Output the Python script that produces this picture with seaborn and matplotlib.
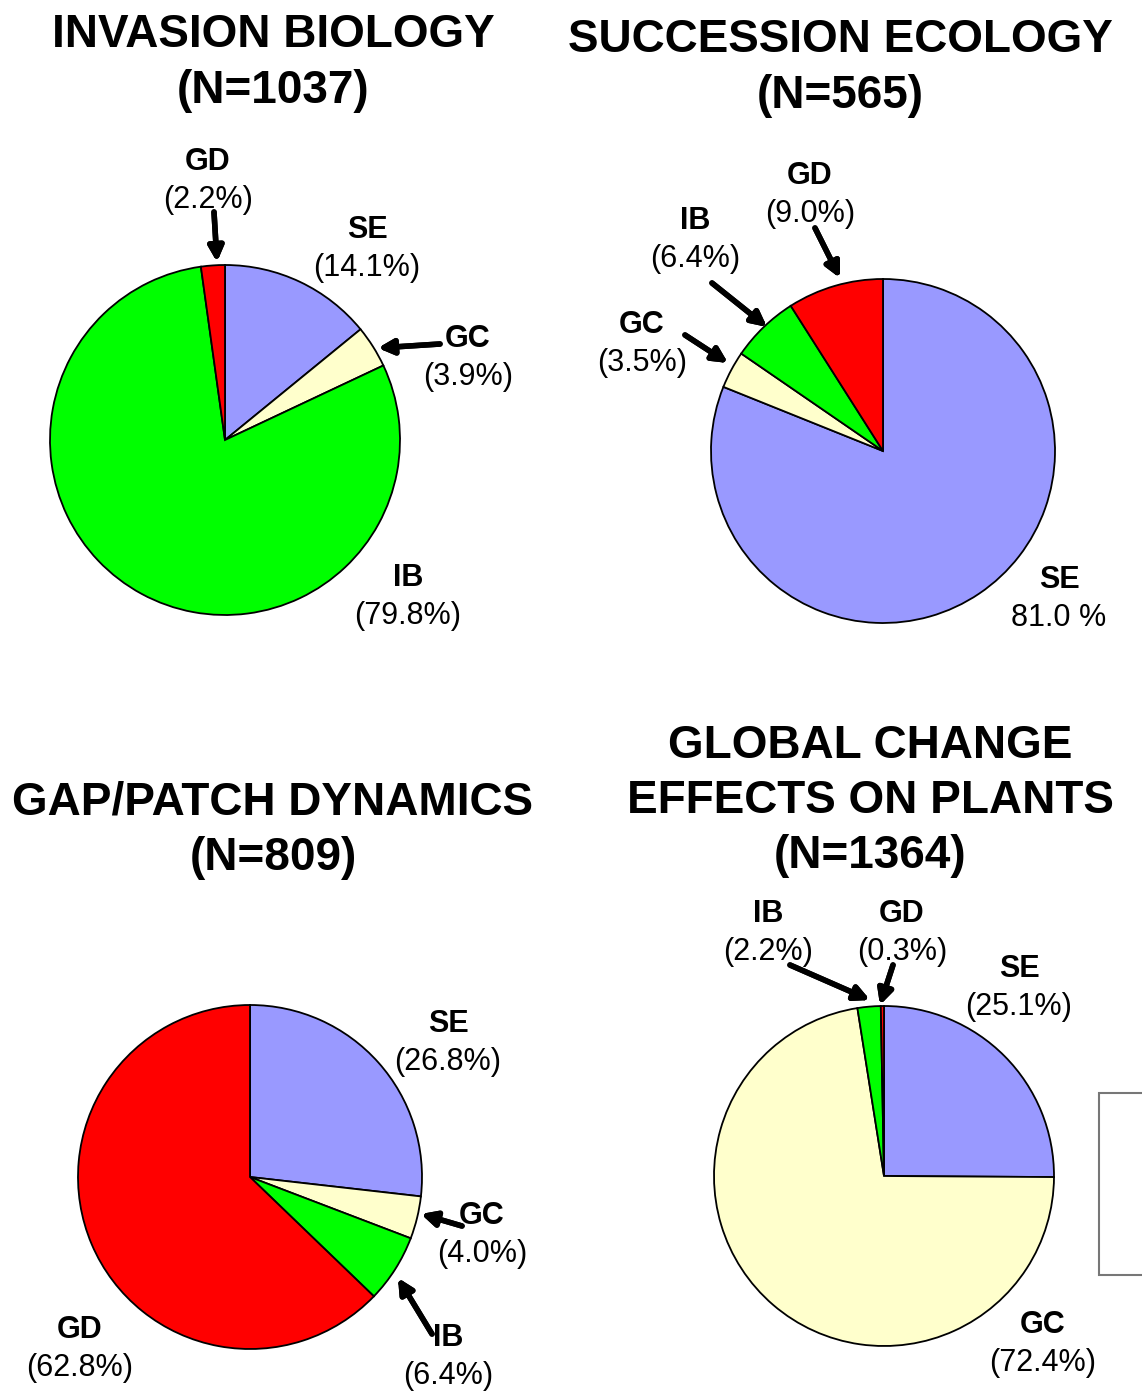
import seaborn as sns
import matplotlib.pyplot as plt
from matplotlib.patches import Rectangle

sns.set_style('white')
plt.rcParams['font.family'] = ['Liberation Sans', 'DejaVu Sans']
plt.rcParams['text.color'] = 'black'

W, H = 1142, 1391

# 数据
categories = ['SE', 'GC', 'IB', 'GD']
colors = sns.color_palette(['#9999FF', '#FFFFCC', '#00FF00', '#FF0000'])

titles = ['INVASION BIOLOGY\n(N=1037)', 'SUCCESSION ECOLOGY\n(N=565)',
          'GAP/PATCH DYNAMICS\n(N=809)', 'GLOBAL CHANGE\nEFFECTS ON PLANTS\n(N=1364)']
invasion = [14.1, 3.9, 79.8, 2.2]
succession = [81.0, 3.5, 6.4, 9.0]
gap_patch = [26.8, 4.0, 6.4, 62.8]
global_change = [25.1, 72.4, 2.2, 0.3]
pct_labels = [['(14.1%)', '(3.9%)', '(79.8%)', '(2.2%)'],
              ['81.0 %', '(3.5%)', '(6.4%)', '(9.0%)'],
              ['(26.8%)', '(4.0%)', '(6.4%)', '(62.8%)'],
              ['(25.1%)', '(72.4%)', '(2.2%)', '(0.3%)']]

# 版面 (像素)
pie_pos = [(225, 440, 175), (883, 451, 172), (250, 1177, 172), (884, 1176, 170)]
title_pos = [(273, 63), (840, 68), (273, 830), (870, 801)]
label_pos = [[(367, 230), (468, 339), (408, 578), (208, 162)],
             [(1059, 580), (642, 325), (695, 221), (810, 176)],
             [(448, 1024), (482, 1216), (448, 1338), (80, 1330)],
             [(1019, 969), (1043, 1325), (768, 914), (902, 914)]]
arrows = [[(214, 212, 217, 262), (440, 344, 378, 348)],
          [(815, 228, 840, 278), (712, 283, 767, 327), (685, 335, 728, 363)],
          [(462, 1226, 421, 1214), (432, 1334, 398, 1278)],
          [(790, 965, 870, 1000), (893, 965, 880, 1005)]]


def f(x, y):
    return x / W, 1 - y / H


fig = plt.figure(figsize=(W / 100, H / 100), dpi=100)
data = [invasion, succession, gap_patch, global_change]
pad = 1.03
for i, vals in enumerate(data):
    cx, cy, r = pie_pos[i]
    rr = r * pad
    ax = fig.add_axes([(cx - rr) / W, 1 - (cy + rr) / H, 2 * rr / W, 2 * rr / H])
    ax.pie(vals, colors=colors, startangle=90, counterclock=False,
           wedgeprops=dict(edgecolor='black', linewidth=1.3))
    ax.set_xlim(-pad, pad)
    ax.set_ylim(-pad, pad)
    ax.axis('off')

    fig.text(*f(*title_pos[i]), titles[i], ha='center', va='center',
             fontsize=33, fontweight='bold', linespacing=1.33)
    for j, cat in enumerate(categories):
        x, y = label_pos[i][j]
        fig.text(*f(x, y), cat, ha='center', va='center', fontsize=22, fontweight='bold')
        fig.text(*f(x, y + 38), pct_labels[i][j], ha='center', va='center', fontsize=22)
    for x0, y0, x1, y1 in arrows[i]:
        fig.add_artist(plt.annotate('', xy=f(x1, y1), xytext=f(x0, y0),
                                    xycoords='figure fraction', textcoords='figure fraction',
                                    arrowprops=dict(arrowstyle='-|>', lw=4, color='black',
                                                    mutation_scale=22, shrinkA=0, shrinkB=0)))

# 右下角的框
fig.add_artist(Rectangle(f(1099, 1275), 100 / W, 182 / H, transform=fig.transFigure,
                         facecolor='white', edgecolor='#777777', lw=1.5))

plt.savefig('out.png', dpi=100)
